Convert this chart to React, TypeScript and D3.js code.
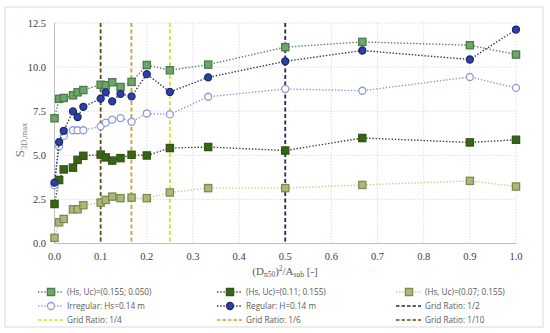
import * as d3 from "d3";

const xValues = [0, 0.01, 0.02, 0.04, 0.05, 0.0625, 0.1, 0.111, 0.125, 0.143, 0.167, 0.2, 0.25, 0.333, 0.5, 0.667, 0.9, 1.0];

const hs155 = [7.1, 8.2, 8.25, 8.4, 8.57, 8.7, 9.0, 8.97, 9.14, 8.87, 9.16, 10.12, 9.82, 10.14, 11.13, 11.43, 11.24, 10.71];
const hs110 = [2.24, 3.6, 4.2, 4.3, 4.74, 4.97, 5.04, 4.88, 4.7, 4.84, 5.03, 4.99, 5.41, 5.47, 5.27, 5.98, 5.73, 5.88];
const hs070 = [0.32, 1.2, 1.39, 1.94, 1.94, 2.17, 2.32, 2.47, 2.66, 2.57, 2.6, 2.57, 2.89, 3.14, 3.14, 3.32, 3.55, 3.23];
const irregular = [3.3, 5.5, 6.1, 6.42, 6.42, 6.42, 6.64, 6.85, 7.02, 7.11, 6.9, 7.37, 7.32, 8.32, 8.76, 8.66, 9.44, 8.82];
const regular = [3.45, 5.75, 6.39, 7.49, 7.17, 7.75, 8.21, 8.57, 8.06, 8.48, 8.34, 9.6, 8.59, 9.42, 10.33, 10.94, 10.43, 12.13];

const gridRatios = [0.5, 0.25, 1 / 6, 0.1];
const xTicks = d3.range(0, 11).map((i) => i / 10);
const yTicks = [0, 2.5, 5, 7.5, 10, 12.5];

type Series = {
  name: string;
  values: number[];
  shape: "square" | "circle";
  fill: string;
  stroke: string;
  line: string;
};

const series: Series[] = [
  { name: "(Hs, Uc)=(0.155; 0.050)", values: hs155, shape: "square", fill: "#6da66a", stroke: "#4c7b4a", line: "#5f7f5f" },
  { name: "(Hs, Uc)=(0.11; 0.155)", values: hs110, shape: "square", fill: "#2f6a12", stroke: "#3f4f1c", line: "#3a4528" },
  { name: "(Hs, Uc)=(0.07; 0.155)", values: hs070, shape: "square", fill: "#a9b97c", stroke: "#7d8c4c", line: "#c2d08e" },
  { name: "Irregular: Hs=0.14 m", values: irregular, shape: "circle", fill: "#ffffff", stroke: "#8e9ad6", line: "#8e9ad6" },
  { name: "Regular: H=0.14 m", values: regular, shape: "circle", fill: "#2c3fa6", stroke: "#1f2a6c", line: "#2b306c" },
];

const ratioLines = [
  { name: "Grid Ratio: 1/2", color: "#1f2d5c" },
  { name: "Grid Ratio: 1/4", color: "#dede22" },
  { name: "Grid Ratio: 1/6", color: "#c9a032" },
  { name: "Grid Ratio: 1/10", color: "#5e4c12" },
];

const W = 550;
const H = 333;
const margin = { top: 23, left: 54.5, right: 516, bottom: 243.5 };

function Marker({ shape, x, y, fill, stroke }: { shape: string; x: number; y: number; fill: string; stroke: string }) {
  if (shape === "square") {
    return <rect x={x - 3.6} y={y - 3.6} width={7.2} height={7.2} fill={fill} stroke={stroke} strokeWidth={1.3} />;
  }
  return <circle cx={x} cy={y} r={3.5} fill={fill} stroke={stroke} strokeWidth={1.3} />;
}

export default function App() {
  const x = d3.scaleLinear().domain([0, 1]).range([margin.left, margin.right]);
  const y = d3.scaleLinear().domain([0, 12.5]).range([margin.bottom, margin.top]);
  const line = d3
    .line<number>()
    .x((_, i) => x(xValues[i]))
    .y((d) => y(d));

  const serif = "'Liberation Serif', 'DejaVu Serif', serif";
  const sans = "'Open Sans', 'Liberation Sans', sans-serif";

  // legend layout: 3 columns x 3 rows
  const legendItems = [
    ...series.map((s) => ({ kind: "series" as const, s })),
    ...ratioLines.map((r) => ({ kind: "ratio" as const, r })),
  ];
  const colX = [38, 217, 396];
  const rowY = [292, 306, 320];

  return (
    <svg width={W} height={H} style={{ position: "absolute", left: 0, top: 0, background: "#fff" }}>
      <rect x={5} y={7} width={538} height={320} fill="#fff" stroke="#d9d9d9" strokeWidth={1} />

      {/* gridlines */}
      {yTicks.map((t) => (
        <line key={"gy" + t} x1={margin.left} x2={margin.right} y1={y(t)} y2={y(t)} stroke="#d6d6d6" strokeWidth={0.8} strokeDasharray="1.5,1.5" />
      ))}
      {xTicks.slice(1).map((t) => (
        <line key={"gx" + t} x1={x(t)} x2={x(t)} y1={margin.top} y2={margin.bottom} stroke="#d6d6d6" strokeWidth={0.8} strokeDasharray="1.5,1.5" />
      ))}
      <line x1={margin.left} x2={margin.left} y1={margin.top} y2={margin.bottom} stroke="#bfbfbf" strokeWidth={1} />
      <line x1={margin.left} x2={margin.right} y1={margin.bottom} y2={margin.bottom} stroke="#bfbfbf" strokeWidth={1} />

      {/* grid ratio lines */}
      {gridRatios.map((g, i) => (
        <line key={"gr" + i} x1={x(g)} x2={x(g)} y1={margin.top} y2={margin.bottom} stroke={ratioLines[i].color} strokeWidth={1.8} strokeDasharray="4,2.5" />
      ))}

      {/* series */}
      {series.map((s) => (
        <g key={s.name}>
          <path d={line(s.values) ?? ""} fill="none" stroke={s.line} strokeWidth={1.4} strokeDasharray="1.4,1.8" />
          {s.values.map((v, i) => (
            <Marker key={i} shape={s.shape} x={x(xValues[i])} y={y(v)} fill={s.fill} stroke={s.stroke} />
          ))}
        </g>
      ))}

      {/* y ticks */}
      {yTicks.map((t) => (
        <text key={"yt" + t} x={46} y={y(t)} dy="0.35em" textAnchor="end" fontFamily={serif} fontSize={10.5} fill="#404040">
          {t.toFixed(1)}
        </text>
      ))}
      {/* x ticks */}
      {xTicks.map((t) => (
        <text key={"xt" + t} x={x(t)} y={256} dy="0.35em" textAnchor="middle" fontFamily={serif} fontSize={10.5} fill="#404040">
          {t.toFixed(1)}
        </text>
      ))}

      {/* axis titles */}
      <text x={285} y={271} dy="0.35em" textAnchor="middle" fontFamily={serif} fontSize={11} fill="#595959">
        (D<tspan fontSize={7.5} dy={2.5}>n50</tspan>
        <tspan dy={-2.5}>)</tspan>
        <tspan fontSize={7.5} dy={-4}>2</tspan>
        <tspan dy={4}>/A</tspan>
        <tspan fontSize={7.5} dy={2.5}>sub</tspan>
        <tspan dy={-2.5}> [-]</tspan>
      </text>
      <text transform="translate(24,140) rotate(-90)" textAnchor="middle" fontFamily={serif} fontSize={13} fill="#7f7f7f">
        S<tspan fontSize={8.5} dy={2.5}>3D,max</tspan>
      </text>

      {/* legend */}
      {legendItems.map((item, i) => {
        const cx = colX[i % 3];
        const cy = rowY[Math.floor(i / 3)];
        if (item.kind === "series") {
          const s = item.s;
          return (
            <g key={"lg" + i}>
              <line x1={cx} x2={cx + 25} y1={cy} y2={cy} stroke={s.line} strokeWidth={1.4} strokeDasharray="1.4,1.8" />
              <Marker shape={s.shape} x={cx + 13} y={cy} fill={s.fill} stroke={s.stroke} />
              <text x={cx + 29} y={cy} dy="0.35em" fontFamily={sans} fontSize={8.2} fill="#595959">
                {s.name}
              </text>
            </g>
          );
        }
        const r = item.r;
        return (
          <g key={"lg" + i}>
            <line x1={cx} x2={cx + 25} y1={cy} y2={cy} stroke={r.color} strokeWidth={1.6} strokeDasharray="3.5,2" />
            <text x={cx + 29} y={cy} dy="0.35em" fontFamily={sans} fontSize={8.2} fill="#595959">
              {r.name}
            </text>
          </g>
        );
      })}
    </svg>
  );
}
